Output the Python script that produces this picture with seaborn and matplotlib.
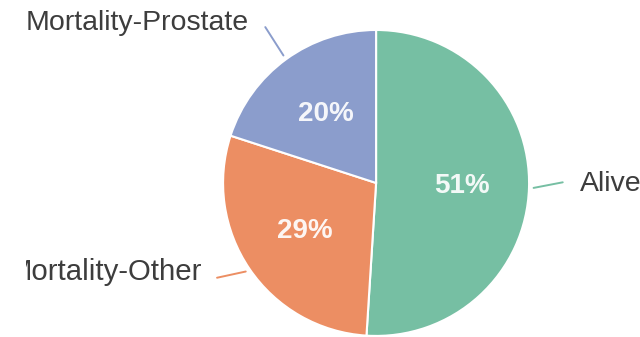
import numpy as np
import matplotlib
matplotlib.use("Agg")
import matplotlib.pyplot as plt
import matplotlib.patches as mpatches
import seaborn as sns

# Outcome shares (percent)
categories = ["Alive", "Mortality-Other", "Mortality-Prostate"]
shares = [51, 29, 20]

sns.set_theme(style="white")
plt.rcParams["font.family"] = ["Liberation Sans", "DejaVu Sans"]

colors = sns.color_palette(["#76bfa3", "#ec8e63", "#8b9dcc"])

fig = plt.figure(figsize=(6.4, 3.37), dpi=100)
ax = fig.add_axes([0, 0, 1, 1])

wedges, _, autotexts = ax.pie(
    shares,
    colors=colors,
    startangle=90,
    counterclock=False,
    autopct="%d%%",
    pctdistance=0.56,
    wedgeprops=dict(edgecolor="white", linewidth=1.5),
    textprops=dict(color="white", fontsize=20, fontweight="bold"),
)
for t in autotexts:
    t.set_alpha(0.92)

# Frame the pie so that its centre sits right of middle
ax.set_xlim(-2.458, 1.725)
ax.set_ylim(-1.007, 1.196)
ax.set_aspect("auto")
ax.axis("off")

# Visible window for the outside labels (left part is cut off)
clip = mpatches.Rectangle((-2.29, -1.2), 4.2, 2.6, transform=ax.transData,
                          facecolor="none", edgecolor="none")

# Outside labels with leader lines:
# (label radius, label angle nudge, alignment, size, line-end radius, line-end angle nudge)
label_tweak = {
    "Alive": (1.33, 1.5, "left", 20.5, 1.22, 2.0),
    "Mortality-Other": (1.28, -7.0, "right", 21.2, 1.21, -3.4),
    "Mortality-Prostate": (1.34, 2.5, "right", 20.5, 1.25, -0.6),
}
for w, name, col in zip(wedges, categories, colors):
    mid = np.deg2rad((w.theta1 + w.theta2) / 2)
    r, dang, ha, fs, r_end, dend = label_tweak[name]
    x0, y0 = 1.03 * np.cos(mid), 1.03 * np.sin(mid)
    e = mid + np.deg2rad(dend)
    x1, y1 = r_end * np.cos(e), r_end * np.sin(e)
    ax.plot([x0, x1], [y0, y1], color=col, lw=1.4, solid_capstyle="round")
    a = mid + np.deg2rad(dang)
    txt = ax.text(r * np.cos(a), r * np.sin(a), name, ha=ha, va="center",
                  fontsize=fs, color="#3d3d3d")
    txt.set_clip_path(clip)
    txt.set_clip_on(True)

fig.savefig("out.png", dpi=100)
